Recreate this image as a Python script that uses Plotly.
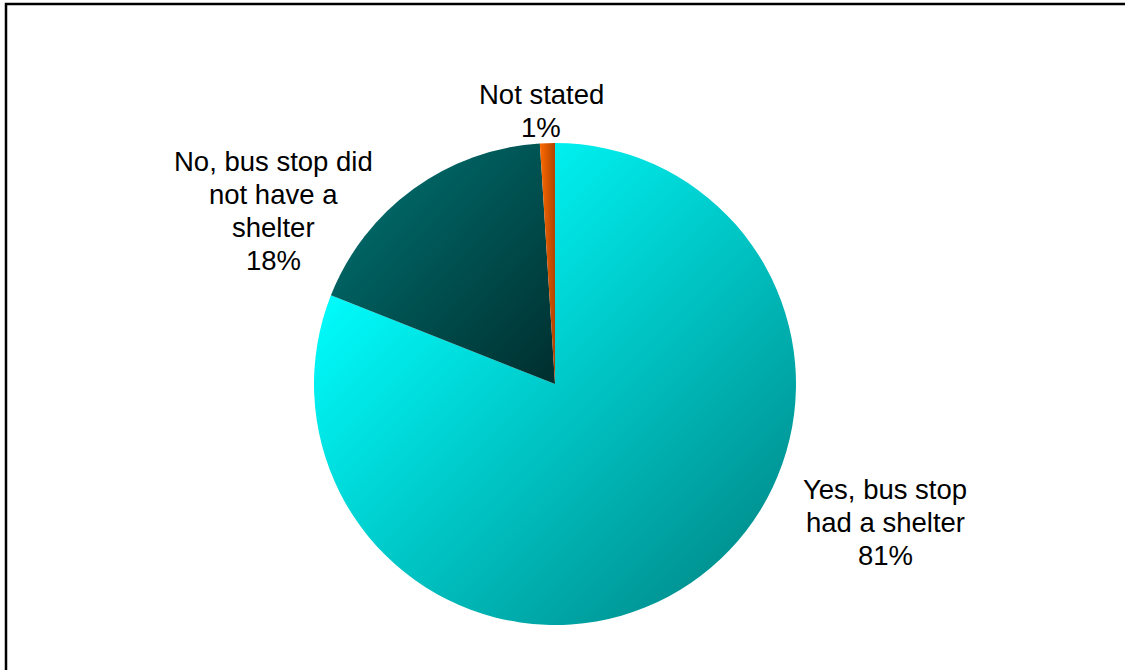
import plotly.graph_objects as go

# Survey answers: did the bus stop have a shelter?
labels = ["Yes, bus stop<br>had a shelter", "No, bus stop did<br>not have a<br>shelter", "Not stated"]
values = [81, 18, 1]
colors = ["#00CCCC", "#005858", "#E65C00"]

# Gradient (offset, colour) stops for each slice, applied in the browser after render
grad_stops = [
    [(0.15, "#00FFFF"), (1, "#007E7E")],
    [(0, "#007676"), (1, "#002E2E")],
    [(0, "#FF6A00"), (1, "#B04400")],
]
grad_dirs = [(0, 0, 1, 1), (0, 0, 1, 1), (0, 0, 1, 0)]

W, H = 1125, 670
cx, cy, r = 555, 384, 241

fig = go.Figure(go.Pie(
    labels=labels,
    values=values,
    sort=False,
    direction="clockwise",
    rotation=0,
    textinfo="none",
    hoverinfo="none",
    marker=dict(colors=colors, line=dict(width=0)),
    showlegend=False,
    domain=dict(x=[(cx - r) / W, (cx + r) / W], y=[(H - cy - r) / H, (H - cy + r) / H]),
))

# Outside labels with their percentages, one annotation per text line
label_x = [885, 273, 541]
label_top = [489, 161, 95]
line_pitch = 33
for lab, v, lx, ly in zip(labels, values, label_x, label_top):
    lines = lab.split("<br>") + [f"{v}%"]
    for k, txt in enumerate(lines):
        fig.add_annotation(
            x=lx / W, y=(H - (ly + k * line_pitch)) / H, xref="paper", yref="paper",
            text=txt, showarrow=False,
            xanchor="center", yanchor="middle", align="center",
            font=dict(family="Arial, Liberation Sans, sans-serif", size=27.5, color="#000000"),
        )

# Frame: rectangle whose right and bottom edges run off the canvas
fig.add_shape(type="rect", xref="paper", yref="paper",
              x0=6 / W, x1=1.05, y0=-0.05, y1=(H - 4) / H,
              line=dict(color="#000000", width=2.5), fillcolor="rgba(0,0,0,0)")

fig.update_layout(
    width=W, height=H,
    margin=dict(l=0, r=0, t=0, b=0),
    paper_bgcolor="#FFFFFF",
    plot_bgcolor="#FFFFFF",
    hovermode=False,
)

stops_js = "[" + ",".join(
    "[" + ",".join(f"[{o},'{c}']" for o, c in s) + "]" for s in grad_stops) + "]"
dirs_js = "[" + ",".join("[" + ",".join(str(v) for v in d) + "]" for d in grad_dirs) + "]"
post = """
var gd = document.getElementById('{plot_id}');
var svg = gd.querySelector('svg.main-svg');
var ns = 'http://www.w3.org/2000/svg';
var defs = svg.querySelector('defs') || svg.insertBefore(document.createElementNS(ns, 'defs'), svg.firstChild);
var stops = %s;
var dirs = %s;
var paths = gd.querySelectorAll('g.slice path.surface');
paths.forEach(function(p, i) {
  var g = document.createElementNS(ns, 'linearGradient');
  g.setAttribute('id', 'slicegrad' + i);
  g.setAttribute('x1', dirs[i][0]); g.setAttribute('y1', dirs[i][1]);
  g.setAttribute('x2', dirs[i][2]); g.setAttribute('y2', dirs[i][3]);
  stops[i].forEach(function(s) {
    var st = document.createElementNS(ns, 'stop');
    st.setAttribute('offset', s[0]);
    st.setAttribute('stop-color', s[1]);
    g.appendChild(st);
  });
  defs.appendChild(g);
  p.style.fill = 'url(#slicegrad' + i + ')';
});
""" % (stops_js, dirs_js)

fig.write_html("out.html", post_script=post, config={"displayModeBar": False})
